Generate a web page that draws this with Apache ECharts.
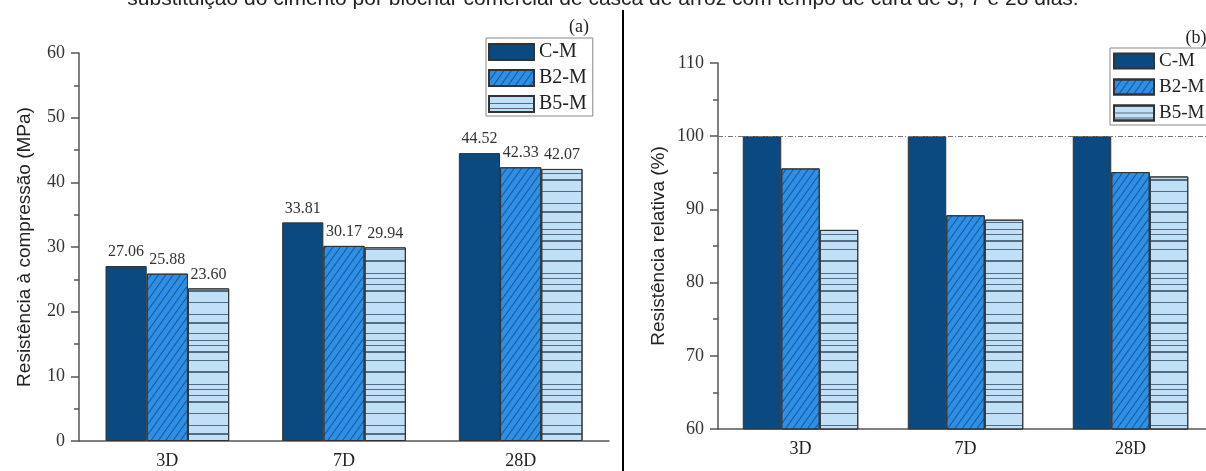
<!DOCTYPE html>
<html>
<head>
<meta charset="utf-8">
<script src="https://cdn.jsdelivr.net/npm/echarts@6/dist/echarts.min.js"></script>
<style>
html,body{margin:0;padding:0;background:#fff;}
#chart{width:1206px;height:471px;}
</style>
</head>
<body>
<div id="chart"></div>
<script>
const categories = ['3D', '7D', '28D'];
const seriesNames = ['C-M', 'B2-M', 'B5-M'];
const cmStrength = [27.06, 33.81, 44.52];
const b2Strength = [25.88, 30.17, 42.33];
const b5Strength = [23.60, 29.94, 42.07];
const cmRelative = [100, 100, 100];
const b2Relative = [95.6, 89.2, 95.1];
const b5Relative = [87.2, 88.6, 94.5];
const titleText = 'substituição do cimento por biochar comercial de casca de arroz com tempo de cura de 3, 7 e 28 dias.';
const yNameLeft = 'Resistência à compressão (MPa)';
const yNameRight = 'Resistência relativa (%)';

const serif = 'Liberation Serif, Times New Roman, serif';
const sans = 'Liberation Sans, Arial, sans-serif';
const colCM = '#0a4a80';
const colB2 = '#2d8fe6';
const colB5 = '#bfe0f7';

const decalB2 = {
  symbol: 'rect', symbolSize: 1, dashArrayX: [1, 0], dashArrayY: [1, 5],
  rotation: -Math.PI / 3.3, color: 'rgba(15,45,90,0.6)'
};
const decalB5 = {
  symbol: 'rect', symbolSize: 1, dashArrayX: [1, 0],
  dashArrayY: [1, 6, 1, 4, 1, 5, 2, 7, 1, 10, 2, 11, 1, 4, 1, 5, 1, 5, 2, 10, 1, 11, 1, 7, 2, 9],
  rotation: 0, color: 'rgba(40,55,75,0.7)'
};

function yAxisBase(gridIndex, min, max, name, gap) {
  return {
    type: 'value', gridIndex, min, max, interval: 10,
    name, nameLocation: 'middle', nameGap: gap,
    nameTextStyle: { fontFamily: sans, fontSize: 19, color: '#222' },
    axisLine: { show: true, lineStyle: { color: '#555', width: 1.5 } },
    axisTick: { show: true, length: 8, lineStyle: { color: '#555', width: 1.5 } },
    minorTick: { show: true, splitNumber: 2, length: 5, lineStyle: { color: '#555', width: 1.5 } },
    axisLabel: { fontFamily: serif, fontSize: 18, color: '#333', margin: 14 },
    splitLine: { show: false }
  };
}
function xAxisBase(gridIndex) {
  return {
    type: 'category', gridIndex, data: categories,
    axisLine: { show: true, lineStyle: { color: '#555', width: 1.5 } },
    axisTick: { show: false },
    axisLabel: { fontFamily: serif, fontSize: 18, color: '#222', margin: 11 }
  };
}
const labelTop = {
  show: true, position: 'top', distance: 6,
  fontFamily: serif, fontSize: 16, color: '#333',
  formatter: p => p.value.toFixed(2)
};
function bar(name, data, xi, color, decal, label) {
  const s = {
    name, type: 'bar', data, xAxisIndex: xi, yAxisIndex: xi,
    barGap: '0%', barCategoryGap: '30%',
    itemStyle: { color, borderColor: '#333', borderWidth: 1, decal },
    emphasis: { disabled: true }
  };
  if (label) s.label = labelTop;
  return s;
}

const chart = echarts.init(document.getElementById('chart'));
const legendCommon = {
  orient: 'vertical', selectedMode: false, icon: 'rect',
  borderColor: '#888', borderWidth: 1, borderRadius: 0,
  itemGap: 6, itemHeight: 16,
  textStyle: { fontFamily: serif, fontSize: 20, color: '#222', lineHeight: 20 },
  data: seriesNames
};
chart.setOption({
  animation: false,
  aria: { enabled: false },
  grid: [
    { left: 79, top: 53, width: 530, height: 388, outerBoundsMode: 'none' },
    { left: 718, top: 63, width: 495, height: 366, outerBoundsMode: 'none' }
  ],
  legend: [
    Object.assign({}, legendCommon, { left: 486, top: 38, itemWidth: 45, padding: [4, 6, 2, 2] }),
    Object.assign({}, legendCommon, { left: 1110, top: 48, itemWidth: 40, itemHeight: 15, padding: [3, 30, 2, 3], textStyle: Object.assign({}, legendCommon.textStyle, { fontSize: 19 }) })
  ],
  xAxis: [xAxisBase(0), xAxisBase(1)],
  yAxis: [yAxisBase(0, 0, 60, yNameLeft, 45), yAxisBase(1, 60, 110, yNameRight, 50)],
  series: [
    bar('C-M', cmStrength, 0, colCM, null, true),
    bar('B2-M', b2Strength, 0, colB2, decalB2, true),
    bar('B5-M', b5Strength, 0, colB5, decalB5, true),
    Object.assign(bar('C-M', cmRelative, 1, colCM, null, false), {
      markLine: {
        silent: true, symbol: 'none', label: { show: false },
        lineStyle: { type: [5, 2, 1, 2], color: '#777', width: 1 },
        data: [{ yAxis: 100 }]
      }
    }),
    bar('B2-M', b2Relative, 1, colB2, decalB2, false),
    bar('B5-M', b5Relative, 1, colB5, decalB5, false)
  ],
  graphic: [
    { type: 'text', left: 'center', top: -11, style: { text: titleText, font: '21px ' + sans, fill: '#222' } },
    { type: 'text', x: 579, y: 27, style: { text: '(a)', font: '18px ' + serif, fill: '#222', align: 'center', verticalAlign: 'middle' } },
    { type: 'text', x: 1196, y: 38, style: { text: '(b)', font: '18px ' + serif, fill: '#222', align: 'center', verticalAlign: 'middle' } },
    { type: 'line', shape: { x1: 623, y1: 10, x2: 623, y2: 471 }, style: { stroke: '#000', lineWidth: 2 } }
  ]
});
</script>
</body>
</html>
